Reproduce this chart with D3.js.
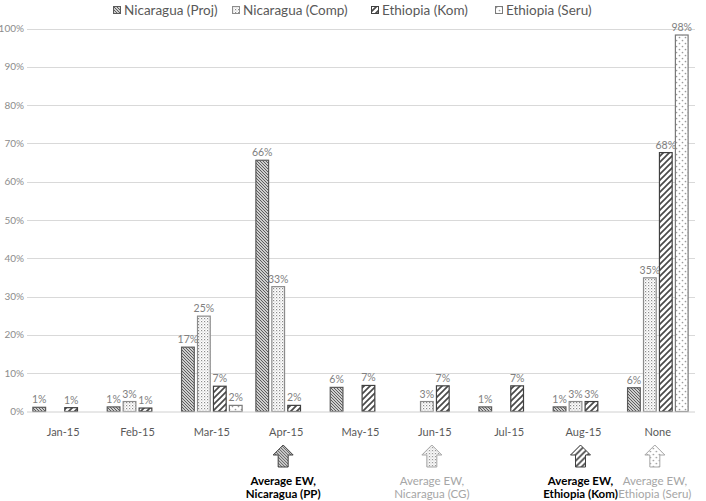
<!DOCTYPE html>
<html>
<head>
<meta charset="utf-8">
<script src="https://cdn.jsdelivr.net/npm/d3@7"></script>
<style>
  html, body { margin: 0; padding: 0; background: #fff; }
  svg { display: block; font-family: Lato, "Open Sans", sans-serif; }
</style>
</head>
<body>
<svg id="chart" width="706" height="501"></svg>
<script>
// ---- data ----
const categories = ["Jan-15","Feb-15","Mar-15","Apr-15","May-15","Jun-15","Jul-15","Aug-15","None"];
const seriesNames = ["Nicaragua (Proj)","Nicaragua (Comp)","Ethiopia (Kom)","Ethiopia (Seru)"];
const nicProj = [1.1, 1.2, 16.8, 65.6, 6.3, 0, 1.2, 1.2, 6.2];
const nicComp = [0, 2.6, 24.9, 32.6, 0, 2.6, 0, 2.6, 34.9];
const ethKom  = [1.0, 0.9, 6.6, 1.6, 6.8, 6.7, 6.7, 2.6, 67.6];
const ethSeru = [0, 0, 1.6, 0, 0, 0, 0, 0, 98.3];
const yTicks = [0,10,20,30,40,50,60,70,80,90,100];
const noteCats = ["Apr-15","Jun-15","Aug-15","None"];
const noteLine1 = ["Average EW,","Average EW,","Average EW,","Average EW,"];
const noteLine2 = ["Nicaragua (PP)","Nicaragua (CG)","Ethiopia (Kom)","Ethiopia (Seru)"];
const noteBold = [true,false,true,false];

const seriesValues = [nicProj, nicComp, ethKom, ethSeru];

// ---- setup ----
const svg = d3.select("#chart");
const mLeft = 26, mRight = 695, mTop = 28.5, mBottom = 411.5;

const defs = svg.append("defs");
function pat(id, w, h) {
  const p = defs.append("pattern").attr("id", id).attr("patternUnits","userSpaceOnUse")
    .attr("width", w).attr("height", h);
  p.append("rect").attr("width", w).attr("height", h).attr("fill", "#fff");
  return p;
}
// Proj: dense downward diagonal
let p0 = pat("p0", 3, 3);
p0.append("path").attr("d","M-1,-1L4,4M-1,2L1,4M2,-1L4,1").attr("stroke","#555").attr("stroke-width",1.1);
// Comp: small dots
let p1 = pat("p1", 3, 3);
p1.append("rect").attr("x",0).attr("y",0).attr("width",1.2).attr("height",1.2).attr("fill","#8c8c8c");
p1.append("rect").attr("x",1.5).attr("y",1.5).attr("width",1).attr("height",1).attr("fill","#b0b0b0");
// Kom: wide upward diagonal
let p2 = pat("p2", 6, 6);
p2.append("path").attr("d","M-1,7L7,-1M-1,1L1,-1M5,7L7,5").attr("stroke","#4a4a4a").attr("stroke-width",1.7);
// Seru: sparse dots
let p3 = pat("p3", 6, 6);
p3.append("circle").attr("cx",1.5).attr("cy",1.5).attr("r",0.85).attr("fill","#9a9a9a");
p3.append("circle").attr("cx",4.5).attr("cy",4.5).attr("r",0.85).attr("fill","#9a9a9a");

const fills = ["url(#p0)","url(#p1)","url(#p2)","url(#p3)"];
const strokes = ["#5a5a5a","#8c8c8c","#404040","#7a7a7a"];

const x0 = d3.scaleBand().domain(categories).range([mLeft, mRight]).paddingInner(0.172).paddingOuter(0.086);
const x1 = d3.scaleBand().domain(seriesNames).range([0, x0.bandwidth()]).paddingInner(0.14);
const y = d3.scaleLinear().domain([0, 100]).range([mBottom, mTop]);

// gridlines
svg.append("g").selectAll("line").data(yTicks.filter(d => d > 0)).join("line")
  .attr("x1", mLeft + 1).attr("x2", mRight)
  .attr("y1", d => Math.round(y(d)) + 0.5).attr("y2", d => Math.round(y(d)) + 0.5)
  .attr("stroke", "#d9d9d9").attr("stroke-width", 1);

// y tick labels
svg.append("g").selectAll("text").data(yTicks).join("text")
  .attr("x", 24).attr("y", d => y(d) + 3.5)
  .attr("text-anchor", "end")
  .attr("font-size", 10).attr("fill", "#8c8c8c")
  .text(d => d + "%");

// bars
const flat = [];
categories.forEach((c, i) => {
  seriesNames.forEach((s, j) => {
    flat.push({cat: c, ser: s, j, v: seriesValues[j][i]});
  });
});
const shown = flat.filter(d => d.v > 0);

svg.append("g").selectAll("rect").data(shown).join("rect")
  .attr("x", d => x0(d.cat) + x1(d.ser) + 0.5)
  .attr("y", d => y(d.v))
  .attr("width", x1.bandwidth() - 1)
  .attr("height", d => mBottom - y(d.v))
  .attr("fill", d => fills[d.j])
  .attr("stroke", d => strokes[d.j]).attr("stroke-width", 1.2);

// axis baseline
svg.append("line").attr("x1", mLeft + 1).attr("x2", mRight)
  .attr("y1", mBottom + 0.5).attr("y2", mBottom + 0.5)
  .attr("stroke", "#d0d0d0").attr("stroke-width", 1);

// data labels
svg.append("g").selectAll("text").data(shown).join("text")
  .attr("x", d => x0(d.cat) + x1(d.ser) + x1.bandwidth() / 2)
  .attr("y", d => y(d.v) - 4)
  .attr("text-anchor", "middle")
  .attr("font-size", 10.5).attr("fill", "#808080")
  .text(d => Math.round(d.v) + "%");

// x labels
svg.append("g").selectAll("text").data(categories).join("text")
  .attr("x", d => x0(d) + x0.bandwidth() / 2)
  .attr("y", 436)
  .attr("text-anchor", "middle")
  .attr("font-size", 11).attr("fill", "#595959")
  .text(d => d);

// legend
const legendX = [113, 232, 371, 495];
const lg = svg.append("g").selectAll("g").data(seriesNames).join("g")
  .attr("transform", (d, i) => `translate(${legendX[i]},0)`);
lg.append("rect").attr("x", 0.5).attr("y", 6.5).attr("width", 7).attr("height", 7)
  .attr("fill", (d, i) => fills[i]).attr("stroke", (d, i) => strokes[i]).attr("stroke-width", 1);
lg.append("text").attr("x", 11).attr("y", 14.5)
  .attr("font-size", 13.5).attr("fill", "#595959").text(d => d);

// annotations (arrows + labels)
const notes = noteCats.map((c, i) => ({cat: c, l1: noteLine1[i], l2: noteLine2[i], bold: noteBold[i], j: i}));
const ng = svg.append("g").selectAll("g").data(notes).join("g")
  .attr("transform", d => `translate(${x0(d.cat) + x0.bandwidth() / 2 - 3},0)`);
ng.append("path")
  .attr("d", "M0,445L10,455L5,455L5,467L-5,467L-5,455L-10,455Z")
  .attr("fill", d => fills[d.j])
  .attr("stroke", d => d.bold ? "#404040" : "#a6a6a6").attr("stroke-width", 1);
ng.append("text").attr("x", 0).attr("y", 485).attr("text-anchor", "middle")
  .attr("font-size", 11.5).attr("font-weight", d => d.bold ? "bold" : "normal")
  .attr("fill", d => d.bold ? "#000" : "#a6a6a6").text(d => d.l1);
ng.append("text").attr("x", 0).attr("y", 498).attr("text-anchor", "middle")
  .attr("font-size", 11.5).attr("font-weight", d => d.bold ? "bold" : "normal")
  .attr("fill", d => d.bold ? "#000" : "#a6a6a6").text(d => d.l2);
</script>
</body>
</html>
